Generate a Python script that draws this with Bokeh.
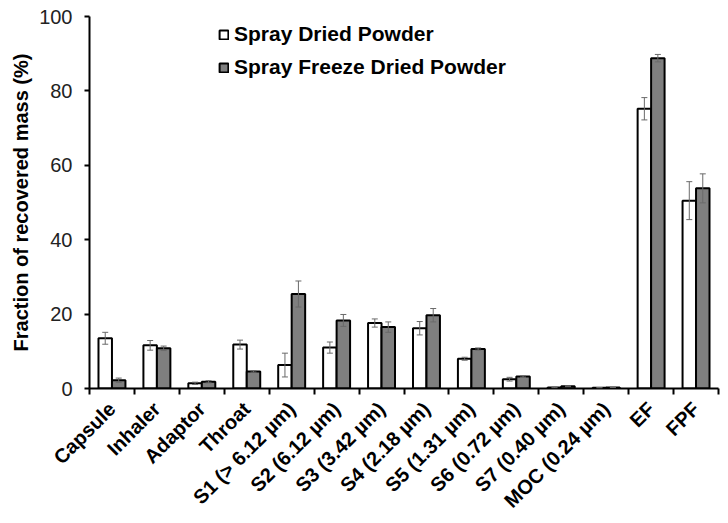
import numpy as np
from bokeh.plotting import figure
from bokeh.models import (ColumnDataSource, Range1d, FixedTicker, Whisker, TeeHead,
                          Legend, LegendItem)
from bokeh.embed import file_html
from bokeh.resources import INLINE

categories = ["Capsule", "Inhaler", "Adaptor", "Throat", "S1 (> 6.12 µm)",
              "S2 (6.12 µm)", "S3 (3.42 µm)", "S4 (2.18 µm)", "S5 (1.31 µm)",
              "S6 (0.72 µm)", "S7 (0.40 µm)", "MOC (0.24 µm)", "EF", "FPF"]
sd_vals = [13.5, 11.6, 1.4, 11.8, 6.3, 11.0, 17.6, 16.2, 8.0, 2.5, 0.3, 0.2, 75.2, 50.5]
sd_err = [1.6, 1.3, 0.3, 1.2, 3.2, 1.5, 1.1, 1.8, 0.4, 0.5, 0.1, 0.05, 3.0, 5.1]
sfd_vals = [2.2, 10.8, 1.8, 4.6, 25.4, 18.3, 16.5, 19.7, 10.6, 3.2, 0.6, 0.3, 88.8, 53.8]
sfd_err = [0.6, 0.6, 0.3, 0.2, 3.5, 1.6, 1.4, 1.8, 0.3, 0.2, 0.1, 0.05, 1.0, 3.9]
y_ticks = [0, 20, 40, 60, 80, 100]

FONT = "Liberation Sans"
BAR_W = 0.3
idx = np.arange(len(categories))

def make_src(vals, errs, offset):
    v = np.array(vals)
    e = np.array(errs)
    return ColumnDataSource(dict(x=idx + 0.5 + offset, top=v, upper=v + e, lower=v - e))

src_sd = make_src(sd_vals, sd_err, -BAR_W / 2)
src_sfd = make_src(sfd_vals, sfd_err, BAR_W / 2)

p = figure(width=728, height=523, output_backend="svg", toolbar_location=None,
           x_range=Range1d(0, len(categories)), y_range=Range1d(0, 100),
           min_border_left=89, min_border_right=10, min_border_top=16,
           min_border_bottom=135)
p.outline_line_color = None
p.xgrid.visible = False
p.ygrid.visible = False
p.background_fill_color = "white"
p.border_fill_color = "white"

r_sd = p.vbar(x="x", top="top", bottom=0, width=BAR_W, source=src_sd,
              fill_color="white", line_color="black", line_width=2)
r_sfd = p.vbar(x="x", top="top", bottom=0, width=BAR_W, source=src_sfd,
               fill_color="#7f7f7f", line_color="black", line_width=2)

for src in (src_sd, src_sfd):
    w = Whisker(source=src, base="x", upper="upper", lower="lower",
                line_color="#6a6a6a", line_width=1, level="overlay",
                upper_head=TeeHead(size=6, line_color="#6a6a6a", line_width=1),
                lower_head=TeeHead(size=6, line_color="#6a6a6a", line_width=1))
    p.add_layout(w)

# x axis: labels at category centres, ticks at category boundaries
xa = p.xaxis[0]
xa.ticker = FixedTicker(ticks=list(idx + 0.5), minor_ticks=list(range(len(categories) + 1)))
xa.major_label_overrides = {float(i + 0.5): c for i, c in enumerate(categories)}
xa.major_label_orientation = np.pi / 4
xa.major_tick_line_color = None
xa.major_tick_out = 6
xa.minor_tick_line_color = "black"
xa.minor_tick_line_width = 2
xa.minor_tick_out = 6
xa.minor_tick_in = 0
xa.axis_line_width = 2
xa.axis_line_color = "black"
xa.major_label_text_font = FONT
xa.major_label_text_font_style = "bold"
xa.major_label_text_font_size = "20px"
xa.major_label_text_color = "black"
xa.major_label_standoff = 11

ya = p.yaxis[0]
ya.ticker = FixedTicker(ticks=y_ticks)
ya.minor_tick_line_color = None
ya.major_tick_out = 5
ya.major_tick_in = 0
ya.major_tick_line_width = 2
ya.axis_line_width = 2
ya.axis_line_color = "black"
ya.major_label_text_font = FONT
ya.major_label_text_font_size = "20px"
ya.major_label_text_color = "#222222"
ya.major_label_standoff = 12
ya.axis_label = "Fraction of recovered mass (%)"
ya.axis_label_text_font = FONT
ya.axis_label_text_font_style = "bold"
ya.axis_label_text_font_size = "20px"
ya.axis_label_text_color = "black"
ya.axis_label_standoff = 4

legend = Legend(items=[LegendItem(label="Spray Dried Powder", renderers=[r_sd]),
                       LegendItem(label="Spray Freeze Dried Powder", renderers=[r_sfd])],
                location=(129, 307), orientation="vertical",
                padding=0, margin=0, spacing=5,
                glyph_width=11, glyph_height=11, label_height=28, label_standoff=5,
                label_text_font=FONT, label_text_font_style="bold",
                label_text_font_size="21px", label_text_color="black",
                border_line_color=None, background_fill_alpha=0)
p.add_layout(legend)

open("out.html", "w").write(file_html(p, INLINE))
